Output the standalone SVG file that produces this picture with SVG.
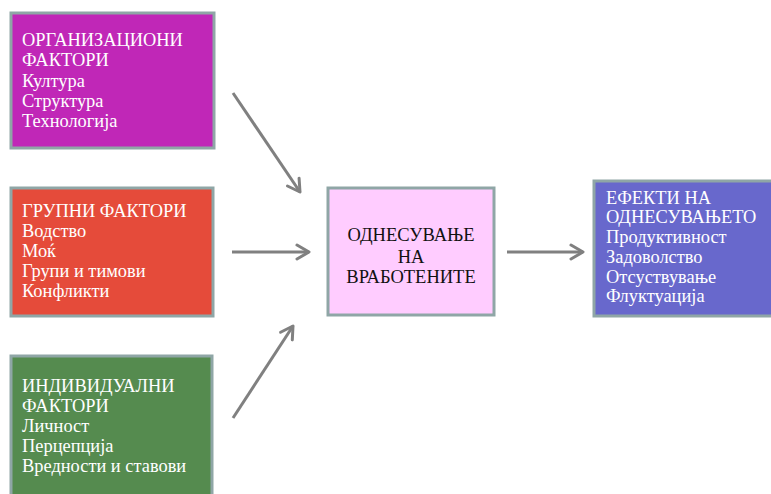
<svg xmlns="http://www.w3.org/2000/svg" width="771" height="494" viewBox="0 0 771 494">
<style>
.box{stroke:#8fa6a6;stroke-width:3}
.t{font-family:"Liberation Serif","Times New Roman",serif;font-size:18.4px;fill:#ffffff}
.c{font-family:"Liberation Serif","Times New Roman",serif;font-size:18.5px;fill:#111111;text-anchor:middle}
.arr{stroke:#808080;stroke-width:3;fill:none;marker-end:url(#ah)}
</style>
<defs>
<marker id="ah" markerUnits="userSpaceOnUse" viewBox="-14 -9 16 18" refX="0" refY="0" markerWidth="16" markerHeight="18" orient="auto">
<path d="M-12,-7 L0,0 L-12,7" fill="none" stroke="#808080" stroke-width="3" stroke-linecap="round" stroke-linejoin="round"/>
</marker>
</defs>
<rect width="771" height="494" fill="#ffffff"/>
<g id="org">
<rect class="box" x="11" y="13" width="203" height="135" fill="#c027b7"/>
<text class="t" x="22" y="46">ОРГАНИЗАЦИОНИ</text>
<text class="t" x="22" y="66">ФАКТОРИ</text>
<text class="t" x="22" y="87">Култура</text>
<text class="t" x="22" y="107">Структура</text>
<text class="t" x="22" y="127">Технологија</text>
</g>
<g id="grp">
<rect class="box" x="11" y="188" width="202" height="128" fill="#e54b3a"/>
<text class="t" x="22" y="217">ГРУПНИ ФАКТОРИ</text>
<text class="t" x="22" y="237">Водство</text>
<text class="t" x="22" y="257">Моќ</text>
<text class="t" x="22" y="277">Групи и тимови</text>
<text class="t" x="22" y="297">Конфликти</text>
</g>
<g id="ind">
<rect class="box" x="11" y="356" width="201" height="150" fill="#558b4f"/>
<text class="t" x="22" y="392">ИНДИВИДУАЛНИ</text>
<text class="t" x="22" y="412">ФАКТОРИ</text>
<text class="t" x="22" y="432">Личност</text>
<text class="t" x="22" y="452">Перцепција</text>
<text class="t" x="22" y="472">Вредности и ставови</text>
</g>
<g id="beh">
<rect class="box" x="328" y="188" width="166" height="127" fill="#ffccff"/>
<text class="c" x="411" y="241">ОДНЕСУВАЊЕ</text>
<text class="c" x="411" y="263">НА</text>
<text class="c" x="411" y="283">ВРАБОТЕНИТЕ</text>
</g>
<g id="eff">
<rect class="box" x="594" y="181" width="190" height="135" fill="#6868cc"/>
<text class="t" x="606" y="204">ЕФЕКТИ НА</text>
<text class="t" x="606" y="223">ОДНЕСУВАЊЕТО</text>
<text class="t" x="606" y="243">Продуктивност</text>
<text class="t" x="606" y="263">Задоволство</text>
<text class="t" x="606" y="283">Отсуствување</text>
<text class="t" x="606" y="302">Флуктуација</text>
</g>
<g id="connectors">
<line class="arr" x1="233" y1="93" x2="300" y2="192"/>
<line class="arr" x1="232" y1="252" x2="309" y2="252"/>
<line class="arr" x1="233" y1="418" x2="293" y2="326"/>
<line class="arr" x1="507" y1="252" x2="583" y2="252"/>
</g>
</svg>
